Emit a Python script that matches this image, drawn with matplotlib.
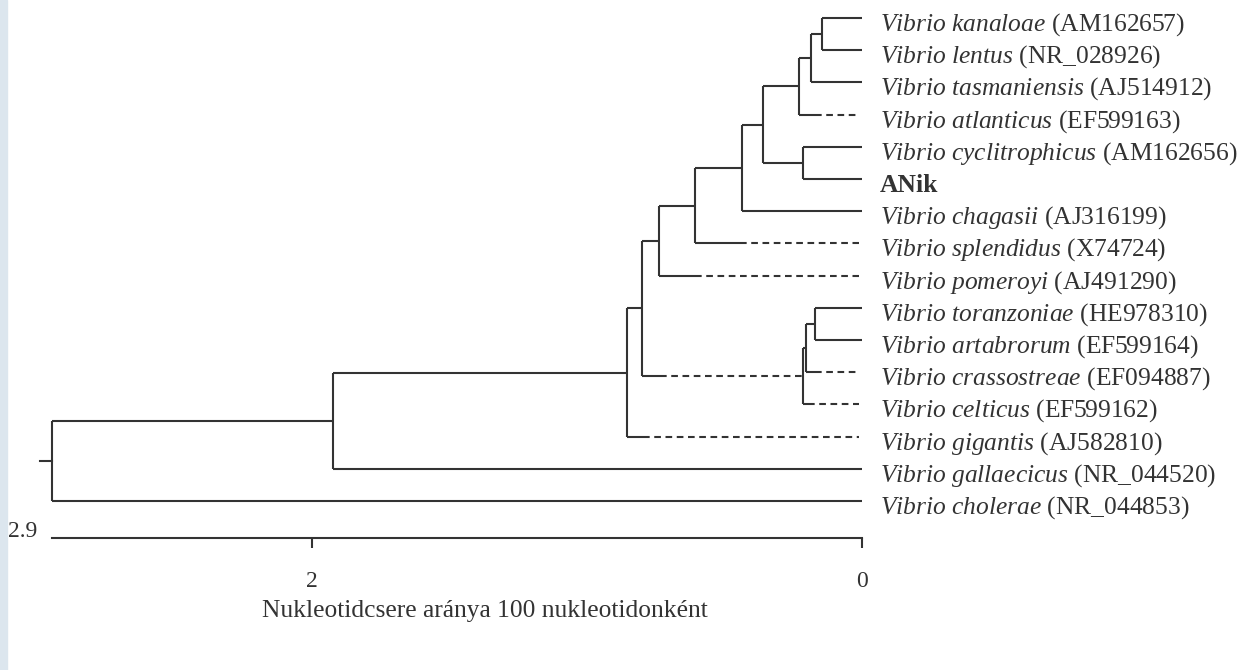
import matplotlib
matplotlib.use('Agg')
import matplotlib.pyplot as plt
from matplotlib.patches import Rectangle

# leaves, top to bottom
leaf_names = ['Vibrio kanaloae', 'Vibrio lentus', 'Vibrio tasmaniensis', 'Vibrio atlanticus',
              'Vibrio cyclitrophicus', 'ANik', 'Vibrio chagasii', 'Vibrio splendidus',
              'Vibrio pomeroyi', 'Vibrio toranzoniae', 'Vibrio artabrorum', 'Vibrio crassostreae',
              'Vibrio celticus', 'Vibrio gigantis', 'Vibrio gallaecicus', 'Vibrio cholerae']
leaf_acc = ['AM162657', 'NR_028926', 'AJ514912', 'EF599163', 'AM162656', '', 'AJ316199', 'X74724',
            'AJ491290', 'HE978310', 'EF599164', 'EF094887', 'EF599162', 'AJ582810', 'NR_044520',
            'NR_044853']

# internal nodes: name, distance from the tips, children (leaf index or node name)
node_names = ['J', 'I', 'H', 'K', 'G', 'F', 'E', 'D', 'M', 'L1', 'L', 'C', 'B', 'A', 'root']
node_height = [0.145, 0.185, 0.229, 0.215, 0.36, 0.436, 0.607, 0.738,
               0.171, 0.204, 0.215, 0.80, 0.855, 1.924, 2.945]
node_children = [[0, 1], ['J', 2], ['I', 3], [4, 5], ['H', 'K'], ['G', 6], ['F', 7], ['E', 8],
                 [9, 10], ['M', 11], ['L1', 12], ['D', 'L'], ['C', 13], ['B', 14], ['A', 15]]
root_stem = 2.99

# branches drawn dashed and the height where the dashes begin
dashed_branch = [3, 7, 8, 'L', 11, 12, 13]
dash_start = [0.171, 0.444, 0.607, 0.735, 0.171, 0.196, 0.796]

scale_ticks = [2, 0]
scale_length = 2.945

plt.rcParams['font.family'] = 'Liberation Serif'
plt.rcParams['mathtext.fontset'] = 'custom'
plt.rcParams['mathtext.it'] = 'Liberation Serif:italic'
plt.rcParams['mathtext.rm'] = 'Liberation Serif'

ink = '#333333'
lw = 1.5
DASH_END = 0.01
fs = 18.4

fig = plt.figure(figsize=(12.53, 6.70), dpi=100)
fig.patches.append(Rectangle((0, 0), 7 / 1253, 1, transform=fig.transFigure,
                             color='#dce6ee', zorder=-5))
ax = fig.add_axes([0, 0, 1, 1])
ax.patch.set_alpha(0)

# pixel frame: tips at x=862, 275 px per unit; leaves at y=18 + 32.2*i
ax.set_xlim(862 / 275., (862 - 1253) / 275.)
ax.set_ylim((670 - 18) / 32.2, -18 / 32.2)

height = {}
ypos = {}
for i in range(len(leaf_names)):
    height[i] = DASH_END if i in dashed_branch else 0.
    ypos[i] = i
for name, h, kids in zip(node_names, node_height, node_children):
    height[name] = h
    ypos[name] = (ypos[kids[0]] + ypos[kids[-1]]) / 2.

for name, h, kids in zip(node_names, node_height, node_children):
    ax.plot([h, h], [ypos[kids[0]], ypos[kids[-1]]], color=ink, lw=lw, solid_capstyle='butt')
    for k in kids:
        y = ypos[k]
        if k in dashed_branch:
            d = dash_start[dashed_branch.index(k)]
            ax.plot([h, d], [y, y], color=ink, lw=lw, solid_capstyle='butt')
            ax.plot([d, height[k]], [y, y], color=ink, lw=lw, ls=(0, (3.2, 2.2)),
                    dash_capstyle='butt')
        else:
            ax.plot([h, height[k]], [y, y], color=ink, lw=lw, solid_capstyle='butt')

ax.plot([root_stem, node_height[-1]], [ypos['root'], ypos['root']], color=ink, lw=lw)

# leaf labels
for i, (name, acc) in enumerate(zip(leaf_names, leaf_acc)):
    if acc:
        s = r'$\mathit{' + name.replace(' ', r'\ ') + '}$ (' + acc + ')'
        ax.text(-0.0655, i + 0.39, s, fontsize=fs, color=ink, va='baseline', ha='left')
    else:
        ax.text(-0.0655, i + 0.39, name, fontsize=fs, color=ink, va='baseline', ha='left',
                fontweight='bold')

# scale bar as the bottom axis
for s in ['top', 'right', 'left']:
    ax.spines[s].set_visible(False)
ax.spines['bottom'].set_position(('data', (538 - 18) / 32.2))
ax.spines['bottom'].set_bounds(0, scale_length)
ax.spines['bottom'].set_color(ink)
ax.spines['bottom'].set_linewidth(lw)
ax.set_yticks([])
ax.set_xticks(scale_ticks)
ax.set_xticklabels([str(t) for t in scale_ticks])
ax.tick_params(axis='x', direction='out', length=7, width=lw, color=ink, pad=17,
               labelsize=17, labelcolor=ink)
ax.text((862 - 8) / 275., (537 - 18) / 32.2, '2.9', fontsize=17, color=ink,
        ha='left', va='baseline')
ax.set_xlabel('Nukleotidcsere aránya 100 nukleotidonként', fontsize=fs, color=ink)
ax.xaxis.set_label_coords(485 / 1253., 1 - 600 / 670.)

fig.savefig('out.png', dpi=100)
